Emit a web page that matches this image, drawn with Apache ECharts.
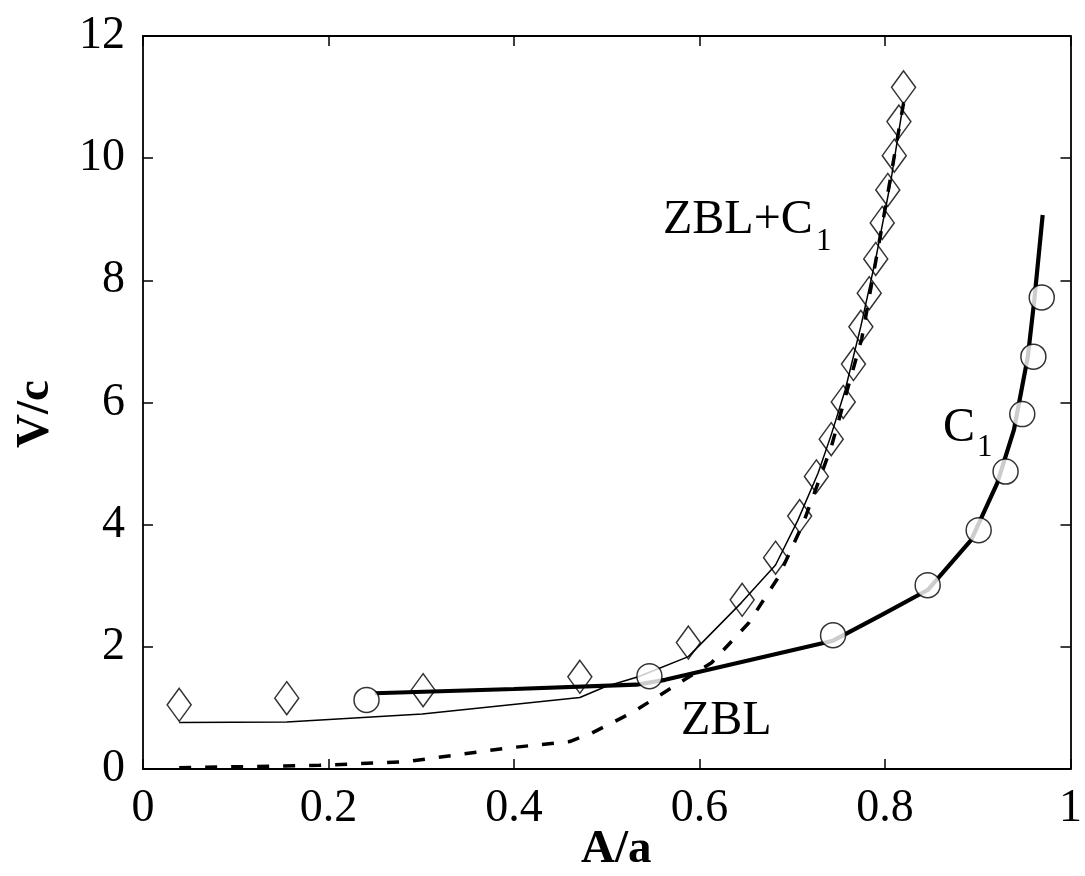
<!DOCTYPE html>
<html>
<head>
<meta charset="utf-8">
<script src="https://cdn.jsdelivr.net/npm/echarts@6/dist/echarts.min.js"></script>
<style>
    html, body { margin: 0; padding: 0; background: #fff; }
    #chart { width: 1085px; height: 876px; }
</style>
</head>
<body>
<div id="chart"></div>
<script>
// measured points (diamonds, ZBL+C1) and (circles, C1)
const diamondX = [0.039, 0.155, 0.302, 0.471, 0.588, 0.646, 0.682, 0.708, 0.726, 0.742, 0.755, 0.766, 0.774, 0.783, 0.790, 0.797, 0.803, 0.810, 0.815, 0.820]
const diamondY = [1.05, 1.16, 1.29, 1.51, 2.07, 2.77, 3.46, 4.14, 4.79, 5.40, 6.01, 6.63, 7.24, 7.79, 8.35, 8.94, 9.48, 10.04, 10.60, 11.16]
const circleX = [0.241, 0.546, 0.744, 0.846, 0.901, 0.930, 0.948, 0.960, 0.969]
const circleY = [1.13, 1.52, 2.19, 3.01, 3.91, 4.87, 5.81, 6.75, 7.72]

// model curves
const zblC1X = [0.039, 0.155, 0.301, 0.471, 0.499, 0.534, 0.588, 0.645, 0.682, 0.706, 0.728, 0.742, 0.757, 0.774, 0.790, 0.806, 0.820]
const zblC1Y = [0.76, 0.77, 0.90, 1.17, 1.35, 1.51, 1.84, 2.72, 3.34, 4.07, 4.85, 5.47, 6.20, 7.25, 8.35, 9.60, 10.92]
const zblX = [0.039, 0.19, 0.284, 0.391, 0.46, 0.484, 0.527, 0.613, 0.653, 0.685, 0.712, 0.742, 0.775, 0.797, 0.820]
const zblY = [0.02, 0.06, 0.12, 0.34, 0.45, 0.59, 0.92, 1.74, 2.39, 3.14, 4.03, 5.27, 7.05, 8.90, 10.90]
const c1X = [0.25, 0.40, 0.532, 0.563, 0.744, 0.796, 0.846, 0.893, 0.921, 0.939, 0.954, 0.961, 0.970]
const c1Y = [1.24, 1.31, 1.38, 1.46, 2.10, 2.52, 2.93, 3.75, 4.68, 5.55, 6.75, 7.68, 9.07]

const xTicks = [0, 0.2, 0.4, 0.6, 0.8, 1]
const yTicks = [0, 2, 4, 6, 8, 10, 12]

const pairs = (xs, ys) => xs.map((x, i) => [x, ys[i]])
const FONT = '"Liberation Serif", "Times New Roman", serif'

const chart = echarts.init(document.getElementById('chart'))

const axisBase = {
    type: 'value',
    axisLine: { show: true, onZero: false, lineStyle: { color: '#000', width: 1.8 } },
    axisTick: { show: true, inside: true, length: 10, lineStyle: { color: '#000', width: 1.5 } },
    splitLine: { show: false }
}

chart.setOption({
    animation: false,
    backgroundColor: '#fff',
    grid: { left: 143, right: 12, top: 36, bottom: 107, show: false },
    xAxis: [
        {
            ...axisBase,
            min: 0, max: 1, interval: 0.2,
            axisLabel: {
                color: '#000', fontFamily: FONT, fontSize: 46, margin: 17,
                formatter: v => String(xTicks.find(t => Math.abs(t - v) < 1e-9) ?? v)
            }
        },
        { ...axisBase, position: 'top', min: 0, max: 1, interval: 0.2, axisLabel: { show: false } }
    ],
    yAxis: [
        {
            ...axisBase,
            min: 0, max: 12, interval: 2,
            axisLabel: {
                color: '#000', fontFamily: FONT, fontSize: 46, margin: 18,
                formatter: v => String(yTicks.find(t => t === v) ?? v)
            }
        },
        { ...axisBase, position: 'right', min: 0, max: 12, interval: 2, axisLabel: { show: false } }
    ],
    graphic: [
        { type: 'text', left: 663, top: 196, style: { text: 'ZBL+C', font: '48px ' + FONT, fill: '#000' } },
        { type: 'text', left: 816, top: 226, style: { text: '1', font: '31px ' + FONT, fill: '#000' } },
        { type: 'text', left: 943, top: 404, style: { text: 'C', font: '48px ' + FONT, fill: '#000' } },
        { type: 'text', left: 977, top: 432, style: { text: '1', font: '31px ' + FONT, fill: '#000' } },
        { type: 'text', left: 681, top: 697, style: { text: 'ZBL', font: '48px ' + FONT, fill: '#000' } },
        { type: 'text', left: 581, top: 826, style: { text: 'A/a', font: 'bold 47px ' + FONT, fill: '#000' } },
        {
            type: 'text', x: 12, y: 448, rotation: Math.PI / 2,
            style: { text: 'V/c', font: 'bold 47px ' + FONT, fill: '#000' }
        }
    ],
    series: [
        {
            name: 'ZBL', type: 'line', data: pairs(zblX, zblY), symbol: 'none',
            lineStyle: { color: '#000', width: 3.5, type: [12, 14] }, z: 2
        },
        {
            name: 'ZBL+C1 model', type: 'line', data: pairs(zblC1X, zblC1Y), symbol: 'none',
            lineStyle: { color: '#000', width: 1.5 }, z: 2
        },
        {
            name: 'C1 model', type: 'line', data: pairs(c1X, c1Y), symbol: 'none',
            lineStyle: { color: '#000', width: 4.2 }, z: 2
        },
        {
            name: 'ZBL+C1', type: 'scatter', data: pairs(diamondX, diamondY),
            symbol: 'diamond', symbolSize: [24, 33],
            itemStyle: { color: 'rgba(0,0,0,0)', borderColor: '#000', borderWidth: 1.5 }, z: 3
        },
        {
            name: 'C1', type: 'scatter', data: pairs(circleX, circleY),
            symbol: 'circle', symbolSize: 25,
            itemStyle: { color: '#fff', borderColor: '#000', borderWidth: 1.5 }, z: 3
        }
    ]
})
</script>
</body>
</html>
